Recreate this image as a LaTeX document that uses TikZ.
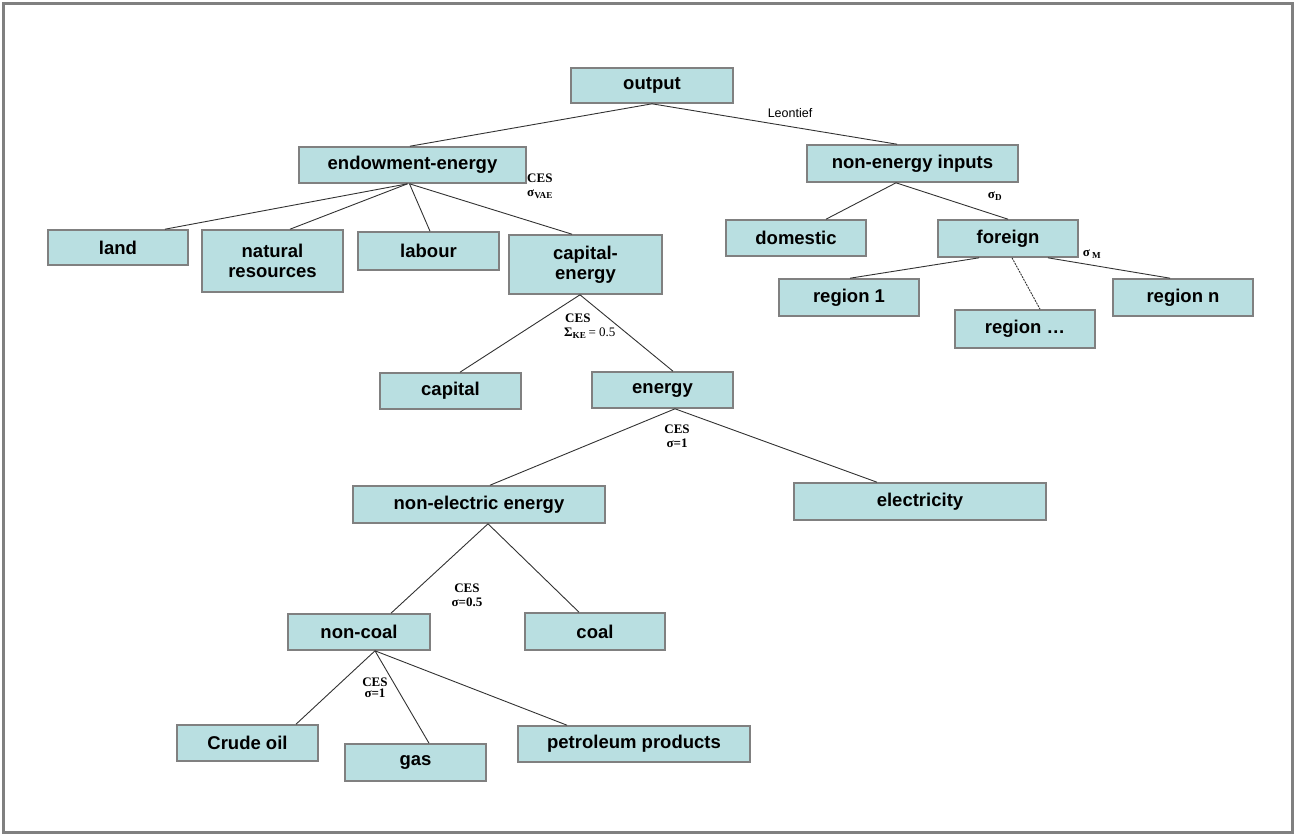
\documentclass[tikz,border=0pt]{standalone}
\usepackage{fontspec}
\setmainfont{Liberation Sans}
\newfontfamily\serifb{Liberation Serif}
\definecolor{boxfill}{RGB}{185,223,225}
\definecolor{boxline}{RGB}{128,128,128}
\definecolor{edgecol}{RGB}{50,50,50}
\tikzset{
  box/.style={draw=boxline, line width=1.6pt, fill=boxfill, inner sep=0pt, align=center,
    font=\fontsize{18.5}{20}\selectfont\bfseries},
  edge/.style={draw=edgecol, line width=0.9pt},
  lbl/.style={inner sep=0pt, align=center, font=\fontsize{13}{14}\selectfont\serifb\bfseries},
}
\begin{document}
\begin{tikzpicture}[x=1pt,y=-1pt]
\useasboundingbox (0,0) rectangle (1295,836);
\draw[boxline, line width=3pt] (3,3) rectangle (1292,832);

\node[box, minimum width=162, minimum height=35] (output) at (652,85.5) {output};
\node[box, minimum width=227, minimum height=36] (endow) at (412.5,165) {endowment-energy};
\node[box, minimum width=211, minimum height=37] (noneng) at (912.5,163.5) {non-energy inputs};
\node[box, minimum width=140, minimum height=35] (land) at (118,247.5) {land};
\node[box, minimum width=141, minimum height=62] (natres) at (272.5,261) {natural\\resources};
\node[box, minimum width=141, minimum height=38] (labour) at (428.5,251) {labour};
\node[box, minimum width=153, minimum height=59] (capen) at (585.5,264.5) {capital-\\energy};
\node[box, minimum width=140, minimum height=36] (domestic) at (796,238) {domestic};
\node[box, minimum width=140, minimum height=37] (foreign) at (1008,238.5) {foreign};
\node[box, minimum width=140, minimum height=37] (region1) at (849,297.5) {region 1};
\node[box, minimum width=140, minimum height=38] (regiondots) at (1025,329) {region \dots};
\node[box, minimum width=140, minimum height=37] (regionn) at (1183,297.5) {region n};
\node[box, minimum width=141, minimum height=36] (capital) at (450.5,391) {capital};
\node[box, minimum width=141, minimum height=36] (energy) at (662.5,390) {energy};
\node[box, minimum width=252, minimum height=37] (nonelec) at (479,504.5) {non-electric energy};
\node[box, minimum width=252, minimum height=37] (elec) at (920,501.5) {electricity};
\node[box, minimum width=142, minimum height=36] (noncoal) at (359,632) {non-coal};
\node[box, minimum width=140, minimum height=37] (coal) at (595,631.5) {coal};
\node[box, minimum width=141, minimum height=36] (crude) at (247.5,743) {Crude oil};
\node[box, minimum width=141, minimum height=37] (gas) at (415.5,762.5) {gas};
\node[box, minimum width=232, minimum height=36] (petro) at (634,744) {petroleum products};

% connectors
\draw[edge] (output.south) -- ([xshift=-2.5]endow.north);
\draw[edge] (output.south) -- ([xshift=-15.5]noneng.north);
\draw[edge] ([xshift=-5]endow.south) -- ([xshift=47]land.north);
\draw[edge] ([xshift=-5]endow.south) -- ([xshift=17.5]natres.north);
\draw[edge] ([xshift=-3]endow.south) -- ([xshift=1.5]labour.north);
\draw[edge] ([xshift=-3]endow.south) -- ([xshift=-13.5]capen.north);
\draw[edge] ([xshift=-16.5]noneng.south) -- ([xshift=30]domestic.north);
\draw[edge] ([xshift=-16.5]noneng.south) -- (foreign.north);
\draw[edge] ([xshift=-29]foreign.south) -- ([xshift=1]region1.north);
\draw[edge, dash pattern=on 2pt off 1pt] ([xshift=4]foreign.south) -- ([xshift=15]regiondots.north);
\draw[edge] ([xshift=40]foreign.south) -- ([xshift=-13]regionn.north);
\draw[edge] ([xshift=-5.5]capen.south) -- ([xshift=9.5]capital.north);
\draw[edge] ([xshift=-5.5]capen.south) -- ([xshift=10.5]energy.north);
\draw[edge] ([xshift=12.5]energy.south) -- ([xshift=11]nonelec.north);
\draw[edge] ([xshift=12.5]energy.south) -- ([xshift=-43]elec.north);
\draw[edge] ([xshift=9]nonelec.south) -- ([xshift=32]noncoal.north);
\draw[edge] ([xshift=9]nonelec.south) -- ([xshift=-16]coal.north);
\draw[edge] ([xshift=16]noncoal.south) -- ([xshift=48.5]crude.north);
\draw[edge] ([xshift=16]noncoal.south) -- ([xshift=13.5]gas.north);
\draw[edge] ([xshift=16]noncoal.south) -- ([xshift=-67]petro.north);

% labels
\node[inner sep=0pt, font=\fontsize{12.5}{14}\selectfont] (leontief) at (790,113) {Leontief};
\node[lbl, anchor=west, align=left] (lvae) at (527,186) {CES\\σ\textsubscript{VAE}};
\node[lbl] (ld) at (995,196) {σ\textsubscript{D}};
\node[lbl] (lm) at (1092,254) {σ\,\textsubscript{M}};
\node[lbl, anchor=west, align=left] (lke) at (564,326) {\hspace{1pt}CES\\Σ\textsubscript{KE}\,\textmd{= 0.5}};
\node[lbl] (le) at (677,436) {CES\\σ=1};
\node[lbl] (lne) at (467,595) {CES\\σ=0.5};
\node[lbl] (lnc) at (375,688) {CES\\[-3pt]σ=1};
\end{tikzpicture}
\end{document}
